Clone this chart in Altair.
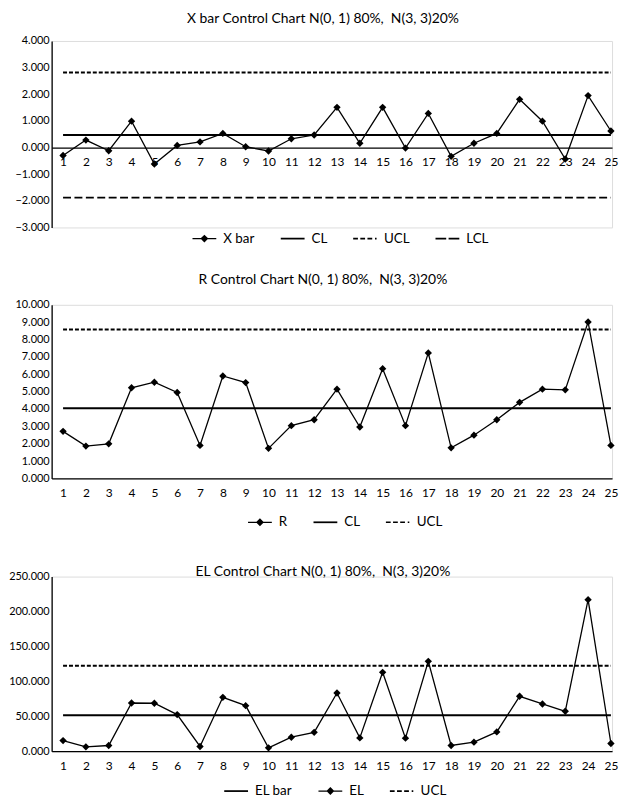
import altair as alt
import pandas as pd

# ---------------- data ----------------
samples = list(range(1, 26))

xbar_values = [-0.30, 0.28, -0.12, 0.99, -0.62, 0.08, 0.21, 0.53, 0.03, -0.13,
               0.33, 0.47, 1.51, 0.16, 1.51, -0.02, 1.28, -0.33, 0.16, 0.53,
               1.81, 0.99, -0.43, 1.95, 0.62]
xbar_cl = 0.47
xbar_ucl = 2.82
xbar_lcl = -1.88

r_values = [2.71, 1.86, 1.99, 5.22, 5.54, 4.95, 1.90, 5.90, 5.52, 1.73,
            3.04, 3.38, 5.14, 2.96, 6.32, 3.04, 7.23, 1.76, 2.49, 3.38,
            4.38, 5.14, 5.10, 9.01, 1.90]
r_cl = 4.04
r_ucl = 8.58

el_values = [15.2, 6.2, 8.1, 69.0, 68.6, 52.4, 6.7, 77.1, 65.2, 4.8,
             20.0, 27.0, 83.3, 19.0, 112.9, 18.6, 128.6, 8.1, 12.9, 27.6,
             78.6, 67.6, 57.1, 217.0, 11.0]
el_cl = 51.4
el_ucl = 122.4

xbar_ticks = [-3, -2, -1, 0, 1, 2, 3, 4]
r_ticks = [0, 1, 2, 3, 4, 5, 6, 7, 8, 9, 10]
el_ticks = [0, 50, 100, 150, 200, 250]

titles = [
    "X bar Control Chart N(0, 1) 80%,\u00a0 N(3, 3)20%",
    "R Control Chart N(0, 1) 80%,\u00a0 N(3, 3)20%",
    "EL Control Chart N(0, 1) 80%,\u00a0 N(3, 3)20%",
]

FONT = "Lato, Roboto, sans-serif"
PLOT_W = 565


def rects(segments, h):
    return "".join(f"M{a},{-h}H{b}V{h}H{a}Z" for a, b in segments)


# legend symbols as filled paths (unit = 8 px, symbols span 24 px)
LEG_PATHS = {
    "data": rects([(-1.5, 1.5)], 0.08) + "M0,-0.5L0.5,0L0,0.5L-0.5,0Z",
    "solid": rects([(-1.5, 1.5)], 0.11),
    "short": rects([(-1.5, -0.9), (-0.6, 0.0), (0.3, 0.9), (1.25, 1.45)], 0.1),
    "long": rects([(-1.5, -0.15), (0.15, 1.5)], 0.12),
}


def long_df(series):
    rows = []
    for name, vals in series:
        for s, v in zip(samples, vals):
            rows.append({"sample": s, "value": v, "series": name})
    return pd.DataFrame(rows)


def control_chart(title, series, kinds, ydomain, yticks, height, title_offset,
                  legend_x, legend_y, x_offset=0):
    df = long_df(series)
    order = [n for n, _ in series]
    x = alt.X("sample:Q",
              scale=alt.Scale(domain=[0.5, 25.05], nice=False, zero=False),
              axis=alt.Axis(values=samples, format="d", title=None, ticks=False,
                            tickSize=0, grid=False, labelPadding=9,
                            offset=x_offset, domainColor="black",
                            domainWidth=1.2, labelFontSize=12,
                            labelColor="black", labelFont=FONT,
                            labelFlush=False, labelOverlap=False))
    y = alt.Y("value:Q",
              scale=alt.Scale(domain=ydomain, nice=False, zero=False),
              axis=alt.Axis(values=yticks, format=".3f", title=None,
                            ticks=False, tickSize=0, grid=False,
                            domainColor="black", domainWidth=1.3,
                            labelFontSize=11, labelColor="black",
                            labelFont=FONT, labelPadding=2.5,
                            labelOverlap=False, minExtent=40, maxExtent=40))
    base = alt.Chart(df)
    layers = []
    for name, kind in zip(order, kinds):
        sub = base.transform_filter(alt.datum.series == name)
        if kind == "data":
            layers.append(sub.mark_line(color="black", strokeWidth=1.3).encode(x=x, y=y))
            layers.append(sub.mark_point(shape="diamond", filled=True, color="black",
                                         size=55, opacity=1).encode(x=x, y=y))
        elif kind == "solid":
            layers.append(sub.mark_line(color="black", strokeWidth=2).encode(x=x, y=y))
        elif kind == "short":
            layers.append(sub.mark_line(color="black", strokeWidth=2,
                                        strokeDash=[4, 2]).encode(x=x, y=y))
        else:
            layers.append(sub.mark_line(color="black", strokeWidth=2,
                                        strokeDash=[8, 3.5]).encode(x=x, y=y))
    legend_layer = base.mark_point(opacity=0, filled=True, color="black").encode(
        x=x, y=y,
        shape=alt.Shape("series:N",
                        scale=alt.Scale(domain=order,
                                        range=[LEG_PATHS[k] for k in kinds]),
                        legend=alt.Legend(orient="none", legendX=legend_x,
                                          legendY=legend_y,
                                          direction="horizontal", title=None,
                                          symbolSize=256, symbolStrokeWidth=0,
                                          symbolFillColor="black",
                                          symbolOpacity=1, labelFont=FONT,
                                          labelFontSize=13.5, labelColor="black",
                                          labelOffset=11, columnPadding=26)))
    layers.append(legend_layer)
    return alt.layer(*layers).properties(
        width=PLOT_W, height=height,
        title=alt.Title(title, fontSize=14, font=FONT, fontWeight="normal",
                        offset=title_offset, dx=-9, anchor="middle",
                        color="black"))


c1 = control_chart(
    titles[0],
    [("X bar", xbar_values), ("CL", [xbar_cl] * 25),
     ("UCL", [xbar_ucl] * 25), ("LCL", [xbar_lcl] * 25)],
    ["data", "solid", "short", "long"],
    [-3, 4], xbar_ticks, 188, 9, 146, 191, x_offset=-80.57)

c2 = control_chart(
    titles[1],
    [("R", r_values), ("CL", [r_cl] * 25), ("UCL", [r_ucl] * 25)],
    ["data", "solid", "short"],
    [0, 10], r_ticks, 175, 12, 202, 211)

c3 = control_chart(
    titles[2],
    [("EL bar", [el_cl] * 25), ("EL", el_values), ("UCL", [el_ucl] * 25)],
    ["solid", "data", "short"],
    [0, 250], el_ticks, 176, -8.5, 178, 208)

top_pair = alt.vconcat(c1, c2, spacing=26).resolve_scale(
    shape="independent").resolve_legend(shape="independent")

chart = alt.vconcat(top_pair, c3, spacing=35).resolve_scale(
    shape="independent"
).resolve_legend(
    shape="independent"
).properties(
    padding={"left": 0, "top": 0, "right": 0, "bottom": 0}
).configure_view(stroke=None).configure(background="white")

chart.save("out.html", embed_options={"renderer": "svg", "actions": False})
